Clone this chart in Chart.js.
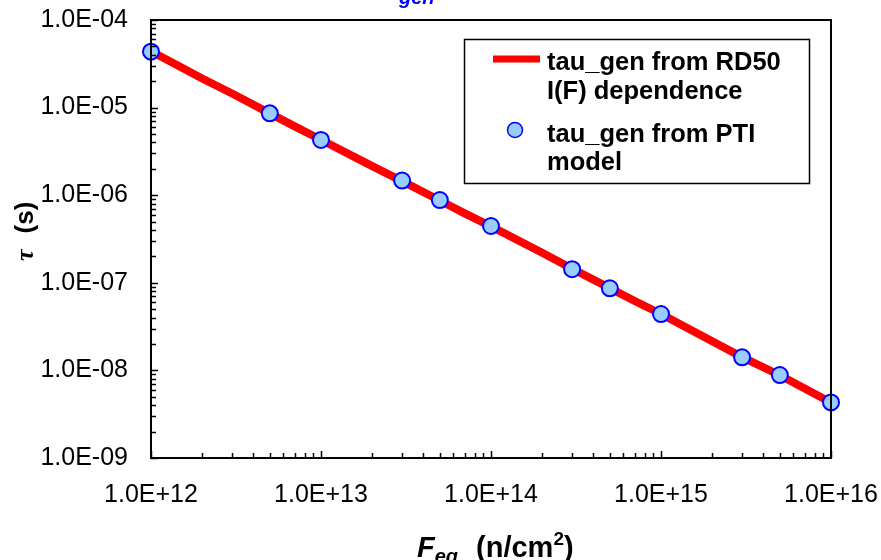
<!DOCTYPE html>
<html>
<head>
<meta charset="utf-8">
<script src="https://cdn.jsdelivr.net/npm/chart.js@4.4.0/dist/chart.umd.min.js"></script>
<style>
  html, body { margin: 0; padding: 0; background: #fff; }
  #wrap { width: 881px; height: 560px; }
</style>
</head>
<body>
<div id="wrap"><canvas id="chart"></canvas></div>
<script>
// fluence (n/cm2) and tau_gen (s)
var lineFluence = [1e12, 2e12, 3e12, 5e12, 7e12, 1e13, 2e13, 3e13, 5e13, 7e13, 1e14, 2e14, 3e14, 5e14, 7e14, 1e15, 2e15, 3e15, 5e15, 7e15, 1e16];
var lineTau = [4.4e-5, 2.15e-5, 1.45e-5, 8.6e-6, 6.1e-6, 4.3e-6, 2.15e-6, 1.45e-6, 8.7e-7, 6.2e-7, 4.4e-7, 2.2e-7, 1.45e-7, 8.7e-8, 6.2e-8, 4.4e-8, 2.15e-8, 1.42e-8, 8.8e-9, 6.2e-9, 4.3e-9];

var ptiFluence = [1e12, 5e12, 1e13, 3e13, 5e13, 1e14, 3e14, 5e14, 1e15, 3e15, 5e15, 1e16];
var ptiTau = [4.35e-5, 8.6e-6, 4.27e-6, 1.47e-6, 8.8e-7, 4.45e-7, 1.43e-7, 8.65e-8, 4.4e-8, 1.41e-8, 8.85e-9, 4.31e-9];

var xTicks = [1e12, 1e13, 1e14, 1e15, 1e16];
var yTicks = [1e-9, 1e-8, 1e-7, 1e-6, 1e-5, 1e-4];

var legendLines = [["tau_gen from RD50", "I(F) dependence"], ["tau_gen from PTI", "model"]];

var SANS = "'Liberation Sans', Arial, sans-serif";

function sci(v) {
  var e = Math.round(Math.log10(v));
  var s = Math.abs(e) < 10 ? "0" + Math.abs(e) : "" + Math.abs(e);
  return "1.0E" + (e < 0 ? "-" : "+") + s;
}

function toXY(xs, ys) {
  return xs.map(function (x, i) { return { x: x, y: ys[i] }; });
}

// border, inward ticks, axis titles, legend
var extras = {
  id: "extras",
  afterDraw: function (chart) {
    var ctx = chart.ctx;
    var a = chart.chartArea;
    var xs = chart.scales.x, ys = chart.scales.y;
    ctx.save();
    ctx.strokeStyle = "#000";
    ctx.lineWidth = 2;
    ctx.strokeRect(a.left, a.top, a.right - a.left, a.bottom - a.top);

    ctx.lineWidth = 1.5;
    ctx.beginPath();
    for (var d = 12; d < 16; d++) {
      for (var m = 1; m <= 10; m++) {
        var px = Math.round(xs.getPixelForValue(m * Math.pow(10, d))) + 0.5;
        var len = (m === 1 || m === 10) ? 7 : 5;
        ctx.moveTo(px, a.bottom);
        ctx.lineTo(px, a.bottom - len);
      }
    }
    for (var d2 = -9; d2 < -4; d2++) {
      for (var m2 = 1; m2 <= 10; m2++) {
        var py = Math.round(ys.getPixelForValue(m2 * Math.pow(10, d2))) + 0.5;
        var len2 = (m2 === 1 || m2 === 10) ? 7 : 5;
        ctx.moveTo(a.left, py);
        ctx.lineTo(a.left + len2, py);
      }
    }
    ctx.stroke();

    // clipped title piece at the very top
    ctx.fillStyle = "#0000FF";
    ctx.font = "italic bold 20px " + SANS;
    ctx.textBaseline = "alphabetic";
    ctx.fillText("gen", 399, 4);

    // x title
    ctx.fillStyle = "#000";
    var xt = 417, yb = 557;
    ctx.font = "italic bold 29px " + SANS;
    ctx.fillText("F", xt, yb);
    xt += ctx.measureText("F").width;
    ctx.font = "italic bold 20px " + SANS;
    ctx.fillText("eq", xt, yb + 6);
    xt += ctx.measureText("eq").width + 18;
    ctx.font = "bold 29px " + SANS;
    ctx.fillText("(n/cm", xt, yb);
    xt += ctx.measureText("(n/cm").width;
    ctx.font = "bold 19px " + SANS;
    ctx.fillText("2", xt, yb - 12);
    xt += ctx.measureText("2").width;
    ctx.font = "bold 29px " + SANS;
    ctx.fillText(")", xt, yb);

    // y title
    ctx.save();
    ctx.translate(33, 261);
    ctx.rotate(-Math.PI / 2);
    ctx.font = "italic bold 26px 'Liberation Serif', 'DejaVu Serif', serif";
    ctx.fillText("\u03c4", 0, 0);
    var tw = ctx.measureText("\u03c4").width;
    ctx.font = "bold 26px " + SANS;
    ctx.fillText("(s)", tw + 16, 0);
    ctx.restore();

    // legend
    ctx.fillStyle = "#fff";
    ctx.fillRect(464, 39, 346, 144);
    ctx.lineWidth = 1.5;
    ctx.strokeStyle = "#000";
    ctx.strokeRect(464.5, 39.5, 345, 144);
    ctx.strokeStyle = "#FF0000";
    ctx.lineWidth = 7;
    ctx.beginPath();
    ctx.moveTo(493, 59);
    ctx.lineTo(540, 59);
    ctx.stroke();
    ctx.beginPath();
    ctx.arc(515, 130, 7.5, 0, Math.PI * 2);
    ctx.fillStyle = "#99CCFF";
    ctx.fill();
    ctx.strokeStyle = "#0000FF";
    ctx.lineWidth = 1.5;
    ctx.stroke();
    ctx.fillStyle = "#000";
    ctx.font = "bold 25.5px " + SANS;
    var base = [[70, 99], [142, 170]];
    legendLines.forEach(function (lines, i) {
      lines.forEach(function (t, j) {
        ctx.fillText(t, 547, base[i][j]);
      });
    });
    ctx.restore();
  }
};

new Chart(document.getElementById("chart"), {
  type: "scatter",
  data: {
    datasets: [
      {
        label: "tau_gen from RD50 I(F) dependence",
        data: toXY(lineFluence, lineTau),
        showLine: true,
        borderColor: "#FF0000",
        borderWidth: 8,
        pointRadius: 0,
        tension: 0,
        order: 2
      },
      {
        label: "tau_gen from PTI model",
        data: toXY(ptiFluence, ptiTau),
        showLine: false,
        backgroundColor: "#99CCFF",
        borderColor: "#0000FF",
        borderWidth: 2,
        pointRadius: 8,
        order: 1
      }
    ]
  },
  options: {
    responsive: true,
    maintainAspectRatio: false,
    animation: false,
    clip: false,
    layout: { padding: { top: 20, right: 50, left: 0, bottom: 0 } },
    plugins: { legend: { display: false }, tooltip: { enabled: false } },
    scales: {
      x: {
        type: "logarithmic",
        min: 1e12,
        max: 1e16,
        afterBuildTicks: function (s) { s.ticks = xTicks.map(function (v) { return { value: v }; }); },
        afterFit: function (s) { s.height = 102; s.paddingLeft = 0; s.paddingRight = 0; },
        grid: { display: false, drawTicks: false },
        border: { display: false },
        ticks: {
          callback: function (v) { return sci(v); },
          color: "#000",
          padding: 22,
          maxRotation: 0,
          autoSkip: false,
          font: { family: SANS, size: 25 }
        }
      },
      y: {
        type: "logarithmic",
        min: 1e-9,
        max: 1e-4,
        afterBuildTicks: function (s) { s.ticks = yTicks.map(function (v) { return { value: v }; }); },
        afterFit: function (s) { s.width = 151; s.paddingTop = 0; s.paddingBottom = 0; },
        grid: { display: false, drawTicks: false },
        border: { display: false },
        ticks: {
          callback: function (v) { return sci(v); },
          color: "#000",
          padding: 23,
          autoSkip: false,
          font: { family: SANS, size: 25 }
        }
      }
    }
  },
  plugins: [extras]
});
</script>
</body>
</html>
